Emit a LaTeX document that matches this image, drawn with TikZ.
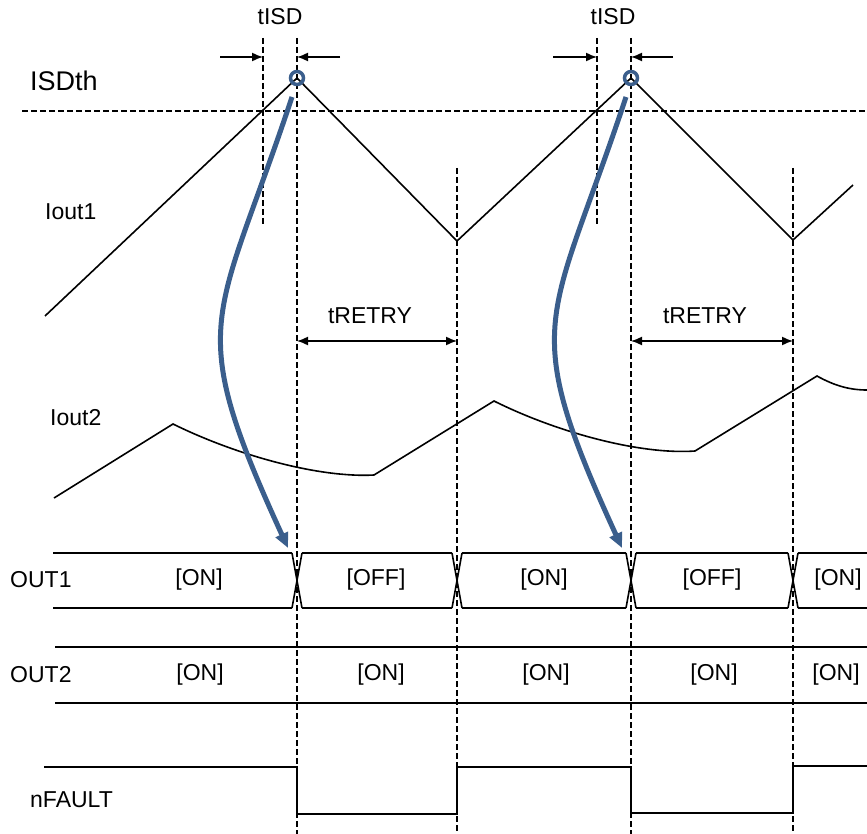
\documentclass[tikz,border=0pt]{standalone}
\usepackage{fontspec}
\setmainfont{Liberation Sans}
\usetikzlibrary{arrows.meta}
\definecolor{arrowblue}{RGB}{58,94,140}
\begin{document}
\begin{tikzpicture}[x=1pt,y=-1pt,
  sig/.style={line width=1.6pt, black, line join=miter},
  guide/.style={line width=1.5pt, dash pattern=on 6pt off 3pt},
  lbl/.style={font=\fontsize{23}{27}\selectfont, inner sep=0pt},
  biglbl/.style={font=\fontsize{27}{31}\selectfont, inner sep=0pt},
  dimarrow/.style={line width=1.5pt, -{Latex[length=11pt,width=9pt]}},
  spanarrow/.style={line width=1.5pt, {Latex[length=11pt,width=9pt]}-{Latex[length=11pt,width=9pt]}},
  ring/.style={draw=arrowblue, line width=3.5pt},
  bluearrow/.style={draw=arrowblue, line width=5pt, -{Triangle[length=15pt,width=13pt]}}
]
\useasboundingbox (0,0) rectangle (867,834);

% guide lines
\draw[guide] (263,38) -- (263,225);
\draw[guide] (297,38) -- (297,834);
\draw[guide] (457,168) -- (457,834);
\draw[guide] (597,38) -- (597,225);
\draw[guide] (631,38) -- (631,834);
\draw[guide] (793,168) -- (793,834);
\draw[guide] (22,111) -- (867,111);

% key coordinates
\coordinate (pk1) at (297,78);
\coordinate (pk2) at (631,78);
\coordinate (v1) at (457,241);
\coordinate (v2) at (793,240);

% Iout1
\draw[sig] (45,316) -- (pk1) -- (v1) -- (pk2) -- (v2) -- (853,185);

% Iout2
\draw[sig] (54,498) -- (173,424) .. controls (238,456) and (320,478) .. (374,475)
  -- (494,401) .. controls (556,432) and (640,455) .. (695,451)
  -- (817,376) .. controls (835,386) and (850,390) .. (867,390);

% tISD arrows
\coordinate (a1l) at (263,57); \coordinate (a1r) at (297,57);
\coordinate (a2l) at (597,57); \coordinate (a2r) at (631,57);
\draw[dimarrow] (220,57) -- (a1l);
\draw[dimarrow] (340,57) -- (a1r);
\draw[dimarrow] (553,57) -- (a2l);
\draw[dimarrow] (673,57) -- (a2r);

% tRETRY arrows
\coordinate (r1l) at (297,341); \coordinate (r1r) at (457,341);
\coordinate (r2l) at (631,341); \coordinate (r2r) at (793,341);
\draw[spanarrow] (r1l) -- (r1r);
\draw[spanarrow] (r2l) -- (r2r);

% OUT1 bus
\foreach \a/\b in {53/292, 302/452, 462/626, 636/788, 798/867}{
  \draw[sig] (\a,553) -- (\b,553);
  \draw[sig] (\a,608) -- (\b,608);
}
\foreach \c in {297,457,631,793}{
  \draw[sig] (\c-5,553) -- (\c+5,608);
  \draw[sig] (\c-5,608) -- (\c+5,553);
}

% OUT2 bus
\draw[sig] (55,647) -- (867,647);
\draw[sig] (55,703) -- (867,703);

% nFAULT
\draw[sig] (44,767) -- (297,767) -- (297,814) -- (457,814) -- (457,767)
  -- (631,767) -- (631,813) -- (793,813) -- (793,766) -- (867,766);

% rings and blue arrows
\draw[ring] (pk1) circle (6.5pt);
\draw[ring] (pk2) circle (6.5pt);
\coordinate (t1) at (288,548);
\coordinate (t2) at (622,548);
\draw[bluearrow] (292,97) .. controls (216,326) and (183,319) .. (t1);
\draw[bluearrow] (626,97) .. controls (550,326) and (517,319) .. (t2);

% labels
\node[lbl] (tisd1) at (280,17) {tISD};
\node[lbl] (tisd2) at (613,17) {tISD};
\node[biglbl, anchor=west] (isdth) at (30,81) {ISDth};
\node[lbl, anchor=west] (iout1) at (45,212) {Iout1};
\node[lbl] (tr1) at (370,316) {tRETRY};
\node[lbl] (tr2) at (705,316) {tRETRY};
\node[lbl, anchor=west] (iout2) at (50,418) {Iout2};
\node[lbl, anchor=west] (out1) at (10,580) {OUT1};
\node[lbl, anchor=west] (out2) at (10,675) {OUT2};
\node[lbl, anchor=west] (nf) at (30,800) {nFAULT};

\node[lbl] (o1a) at (199,580) {[ON]};
\node[lbl] (o1b) at (376,580) {[OFF]};
\node[lbl] (o1c) at (544,580) {[ON]};
\node[lbl] (o1d) at (712,580) {[OFF]};
\node[lbl] (o1e) at (838,580) {[ON]};

\node[lbl] (o2a) at (200,675) {[ON]};
\node[lbl] (o2b) at (381,675) {[ON]};
\node[lbl] (o2c) at (546,675) {[ON]};
\node[lbl] (o2d) at (714,675) {[ON]};
\node[lbl] (o2e) at (836,675) {[ON]};
\end{tikzpicture}
\end{document}
